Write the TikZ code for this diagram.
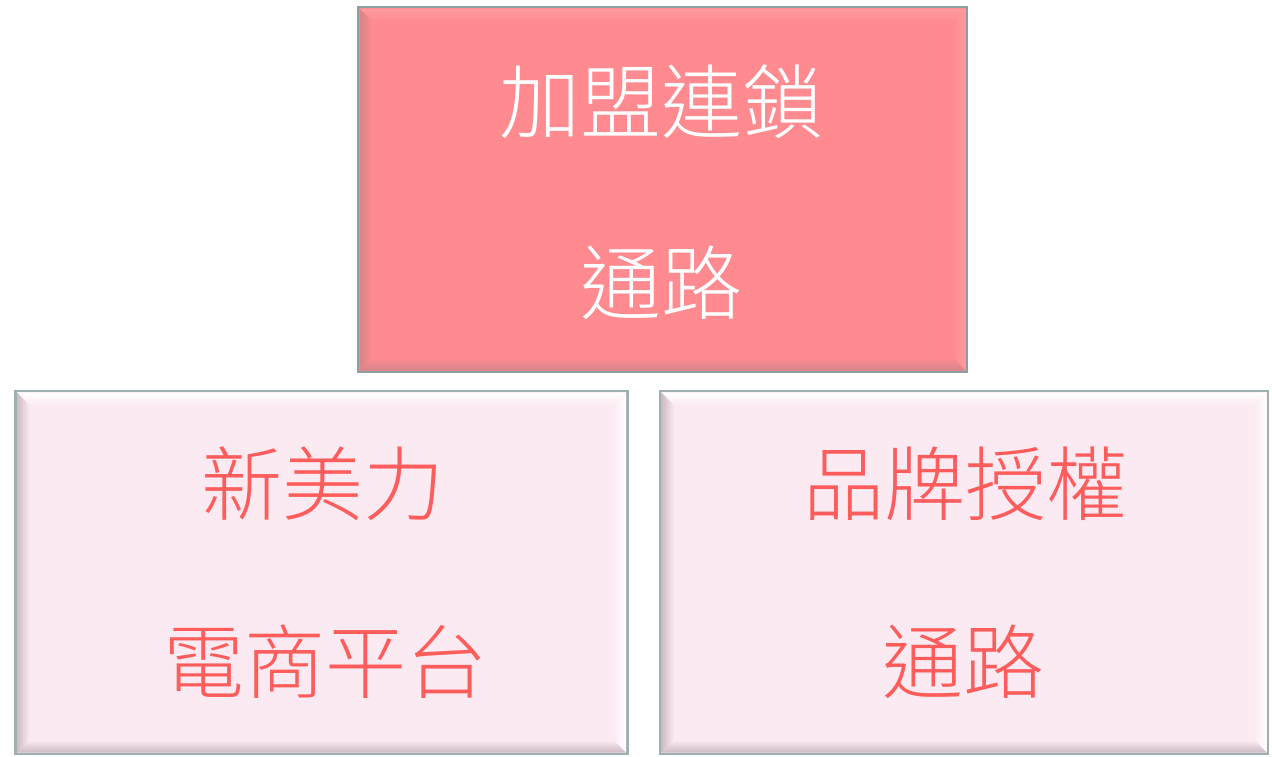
\documentclass[tikz,border=0pt]{standalone}
\usepackage{fontspec}
\newfontfamily\cjk{Noto Sans CJK TC Light}
\usetikzlibrary{calc}
\definecolor{topfill}{HTML}{FF8A90}
\definecolor{toplight}{HTML}{FF9CA1}
\definecolor{topdark}{HTML}{D5868B}
\definecolor{topedge}{HTML}{8E9FA2}
\definecolor{lowfill}{HTML}{FCEAF2}
\definecolor{lowdark}{HTML}{CDBAC4}
\definecolor{lowedge}{HTML}{9FB0B2}
\definecolor{lowtext}{HTML}{FF5C5C}
\begin{document}
\begin{tikzpicture}[x=1pt,y=-1pt]
\useasboundingbox (0,0) rectangle (1272,756);
\tikzset{
  boxnode/.style={inner sep=0pt, outer sep=0pt, minimum width=#1},
  toptext/.style={font=\cjk\fontsize{81}{81}\selectfont, text=white, inner sep=0pt},
  lowtext/.style={font=\cjk\fontsize{81}{81}\selectfont, text=lowtext, inner sep=0pt}
}
% boxes
\node[boxnode=609pt, minimum height=365pt, fill=topfill, draw=topedge, line width=2.5pt] (top) at (662.5,189.5) {};
\node[boxnode=612pt, minimum height=363pt, fill=lowfill, draw=lowedge, line width=2.5pt] (left) at (321.5,572.5) {};
\node[boxnode=608pt, minimum height=363pt, fill=lowfill, draw=lowedge, line width=2.5pt] (right) at (964,572.5) {};
% bevels top box
\def\b{14}
\shade[top color=toplight, bottom color=topfill]
  ($(top.north west)+(1.5,1.5)$) -- ($(top.north east)+(-1.5,1.5)$) -- ($(top.north east)+(-\b,\b)$) -- ($(top.north west)+(\b,\b)$) -- cycle;
\shade[left color=topdark, right color=topfill]
  ($(top.north west)+(1.5,1.5)$) -- ($(top.north west)+(\b,\b)$) -- ($(top.south west)+(\b,-\b)$) -- ($(top.south west)+(1.5,-1.5)$) -- cycle;
\shade[left color=topfill, right color=toplight]
  ($(top.north east)+(-1.5,1.5)$) -- ($(top.north east)+(-\b,\b)$) -- ($(top.south east)+(-\b,-\b)$) -- ($(top.south east)+(-1.5,-1.5)$) -- cycle;
\shade[top color=topfill, bottom color=topdark]
  ($(top.south west)+(1.5,-1.5)$) -- ($(top.south west)+(\b,-\b)$) -- ($(top.south east)+(-\b,-\b)$) -- ($(top.south east)+(-1.5,-1.5)$) -- cycle;
% bevels lower boxes
\foreach \n in {left,right}{
  \shade[top color=white, bottom color=lowfill]
    ($(\n.north west)+(1.5,1.5)$) -- ($(\n.north east)+(-1.5,1.5)$) -- ($(\n.north east)+(-\b,\b)$) -- ($(\n.north west)+(\b,\b)$) -- cycle;
  \shade[left color=lowdark, right color=lowfill]
    ($(\n.north west)+(1.5,1.5)$) -- ($(\n.north west)+(\b,\b)$) -- ($(\n.south west)+(\b,-\b)$) -- ($(\n.south west)+(1.5,-1.5)$) -- cycle;
  \shade[left color=lowfill, right color=white]
    ($(\n.north east)+(-1.5,1.5)$) -- ($(\n.north east)+(-\b,\b)$) -- ($(\n.south east)+(-\b,-\b)$) -- ($(\n.south east)+(-1.5,-1.5)$) -- cycle;
  \shade[top color=lowfill, bottom color=lowdark]
    ($(\n.south west)+(1.5,-1.5)$) -- ($(\n.south west)+(\b,-\b)$) -- ($(\n.south east)+(-\b,-\b)$) -- ($(\n.south east)+(-1.5,-1.5)$) -- cycle;
}
% texts
\node[toptext] (t1) at (661,102) {加盟連鎖};
\node[toptext] (t2) at (661,283) {通路};
\node[lowtext] (l1) at (323,484) {新美力};
\node[lowtext] (l2) at (325,662) {電商平台};
\node[lowtext] (r1) at (965,484) {品牌授權};
\node[lowtext] (r2) at (963,662) {通路};
\end{tikzpicture}
\end{document}
